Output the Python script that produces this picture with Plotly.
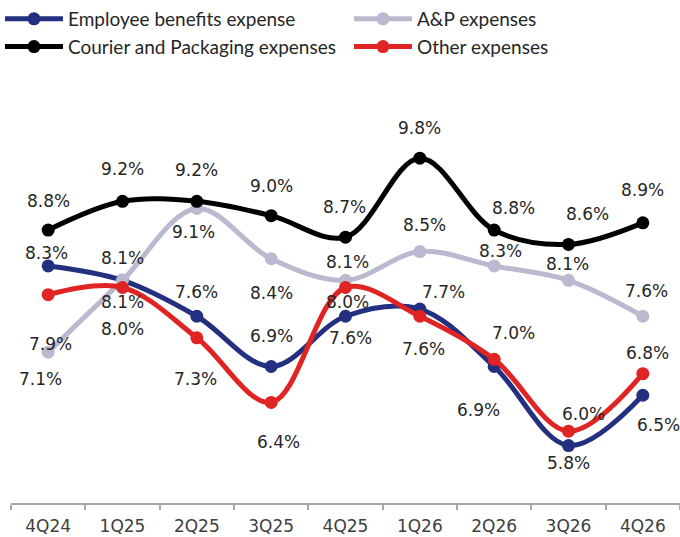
import plotly.graph_objects as go

# ---- data ----
quarters = ["4Q24", "1Q25", "2Q25", "3Q25", "4Q25", "1Q26", "2Q26", "3Q26", "4Q26"]
employee = [8.3, 8.1, 7.6, 6.9, 7.6, 7.7, 6.9, 5.8, 6.5]
ap = [7.1, 8.1, 9.1, 8.4, 8.1, 8.5, 8.3, 8.1, 7.6]
courier = [8.8, 9.2, 9.2, 9.0, 8.7, 9.8, 8.8, 8.6, 8.9]
other = [7.9, 8.0, 7.3, 6.4, 8.0, 7.6, 7.0, 6.0, 6.8]

series_names = ["Employee benefits expense", "A&P expenses",
                "Courier and Packaging expenses", "Other expenses"]

# ---- styles ----
colors = ["#22307f", "#bab9d0", "#000000", "#e02424"]
legend_ids = ["legend", "legend2", "legend", "legend2"]
# label offsets in screen px (dx right, dy down) for each point
label_offsets = [
    [(-2, -13), (0, -22), (0, -24), (0, -31), (5, 22), (24, -17), (-16, 43), (0, 17), (16, 30)],
    [(-8, 27), (0, 22), (-3, 24), (0, 34), (2, -18), (5, -27), (6, -15), (-1, -16), (4, -25)],
    [(0, -29), (0, -32), (0, -31), (0, -30), (-1, -30), (0, -30), (19, -22), (19, -30), (0, -33)],
    [(2, 49), (0, 41), (-1, 41), (7, 40), (2, 14), (4, 33), (19, -26), (15, -17), (5, -21)],
]

all_series = [employee, ap, courier, other]

fig = go.Figure()
for name, vals, col, lg in zip(series_names, all_series, colors, legend_ids):
    fig.add_trace(go.Scatter(
        x=quarters, y=vals, name=name, mode="lines+markers",
        line=dict(color=col, width=5, shape="spline", smoothing=1.0),
        marker=dict(color=col, size=13),
        hoverinfo="skip", legend=lg,
    ))

annotations = []
for vals, offs in zip(all_series, label_offsets):
    for q, v, (dx, dy) in zip(quarters, vals, offs):
        annotations.append(dict(
            x=q, y=v, xref="x", yref="y", text=f"{v:.1f}%",
            showarrow=False, xshift=dx, yshift=-dy,
            font=dict(family="DejaVu Sans", size=17, color="#262626"),
        ))

legend_common = dict(
    orientation="v", xref="container", yref="container",
    y=1.006, xanchor="left", yanchor="top",
    font=dict(family="Lato", size=19, color="#262626"),
    itemwidth=58, tracegroupgap=0,
    bgcolor="rgba(0,0,0,0)",
)

fig.update_layout(
    width=680, height=537,
    margin=dict(l=11, r=0, t=72, b=34, autoexpand=False),
    paper_bgcolor="white", plot_bgcolor="white",
    showlegend=True,
    legend=dict(x=0.0, **legend_common),
    legend2=dict(x=349 / 680, **legend_common),
    xaxis=dict(
        type="category", range=[-0.5, 8.5],
        showline=True, linecolor="#a6a6a6", linewidth=1.5,
        ticks="outside", tickson="boundaries", ticklen=5, tickcolor="#a6a6a6",
        tickwidth=1.5, showgrid=False, zeroline=False,
        ticklabelstandoff=7,
        tickfont=dict(family="DejaVu Sans", size=17, color="#404040"),
    ),
    yaxis=dict(range=[5, 11], visible=False, showgrid=False, zeroline=False),
    annotations=annotations,
)

fig.write_html("out.html")
